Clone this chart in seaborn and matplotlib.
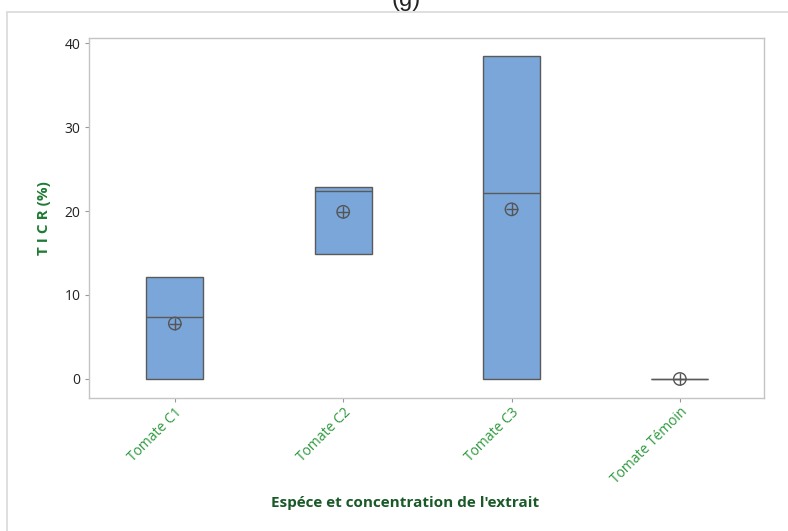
import matplotlib
matplotlib.use("Agg")
import matplotlib.pyplot as plt
import seaborn as sns
import pandas as pd
from matplotlib.patches import Rectangle

# ---- data ----
categories = ["Tomate C1", "Tomate C2", "Tomate C3", "Tomate Témoin"]
box_low = [0.0, 14.9, 0.0, 0.0]       # Q1 (= minimum, n=3)
box_median = [7.4, 22.4, 22.2, 0.0]
box_high = [12.2, 22.8, 38.4, 0.0]    # Q3 (= maximum, n=3)
means = [6.6, 19.9, 20.2, 0.0]
y_ticks = [0, 10, 20, 30, 40]

# table for seaborn: five values per group reproduce Q1/median/Q3 exactly
rows = []
for c, lo, md, hi in zip(categories, box_low, box_median, box_high):
    for v in (lo, lo, md, hi, hi):
        rows.append({"cat": c, "val": v})
df = pd.DataFrame(rows)
mean_df = pd.DataFrame({"cat": categories, "val": means})

sns.set_style("white")
plt.rcParams["font.family"] = ["Open Sans", "DejaVu Sans"]

fig = plt.figure(figsize=(7.88, 5.31), dpi=100)
ax = fig.add_axes([89 / 788, 1 - 397.7 / 531, (764 - 89) / 788, (397.7 - 38) / 531])

# outer frame
fig.patches.append(Rectangle((7 / 788, -0.05), 1.2, 1 - 12 / 531 + 0.05,
                             transform=fig.transFigure, fill=False,
                             edgecolor="#d9d9d9", linewidth=1.2, zorder=0))
fig.text(0.515, 1.0, "(g)", ha="center", va="center", fontsize=17,
         family=["Liberation Sans", "DejaVu Sans"], color="#222222")

sns.boxplot(data=df, x="cat", y="val", order=categories, ax=ax,
            width=0.34, color="#7BA6D9", saturation=1, linecolor="#5a5a5a",
            linewidth=1.0, showcaps=False, fliersize=0,
            whiskerprops={"linewidth": 0})

sns.scatterplot(data=mean_df, x="cat", y="val", ax=ax, marker="o", s=80,
                facecolor="none", edgecolor="#555555", linewidth=1.0, zorder=5)
sns.scatterplot(data=mean_df, x="cat", y="val", ax=ax, marker="+", s=80,
                color="#555555", linewidth=1.0, zorder=6)

ax.set_xlim(-0.51, 3.5)
ax.set_ylim(-2.23, 40.6)
ax.set_yticks(y_ticks)

for s in ax.spines.values():
    s.set_visible(True)
    s.set_color("#c4c4c4")
    s.set_linewidth(1.0)

ax.tick_params(axis="y", which="both", left=True, length=3, width=0.8,
               color="#999999", labelsize=10, labelcolor="#222222", pad=3)
ax.tick_params(axis="x", which="both", bottom=True, length=3, width=0.8,
               color="#999999", labelsize=10, labelcolor="#2e9a3e", pad=2)
for lab in ax.get_xticklabels():
    lab.set_rotation(45)
    lab.set_ha("right")
    lab.set_rotation_mode("anchor")

ax.set_ylabel("T I C R (%)", color="#1e7a34", fontsize=11, fontweight="bold",
              labelpad=10)
ax.set_xlabel("")
fig.text(405 / 788, 1 - 503 / 531, "Espéce et concentration de l'extrait",
         ha="center", va="center", fontsize=11, fontweight="bold",
         color="#1a5a28")

fig.savefig("out.png", dpi=100)
